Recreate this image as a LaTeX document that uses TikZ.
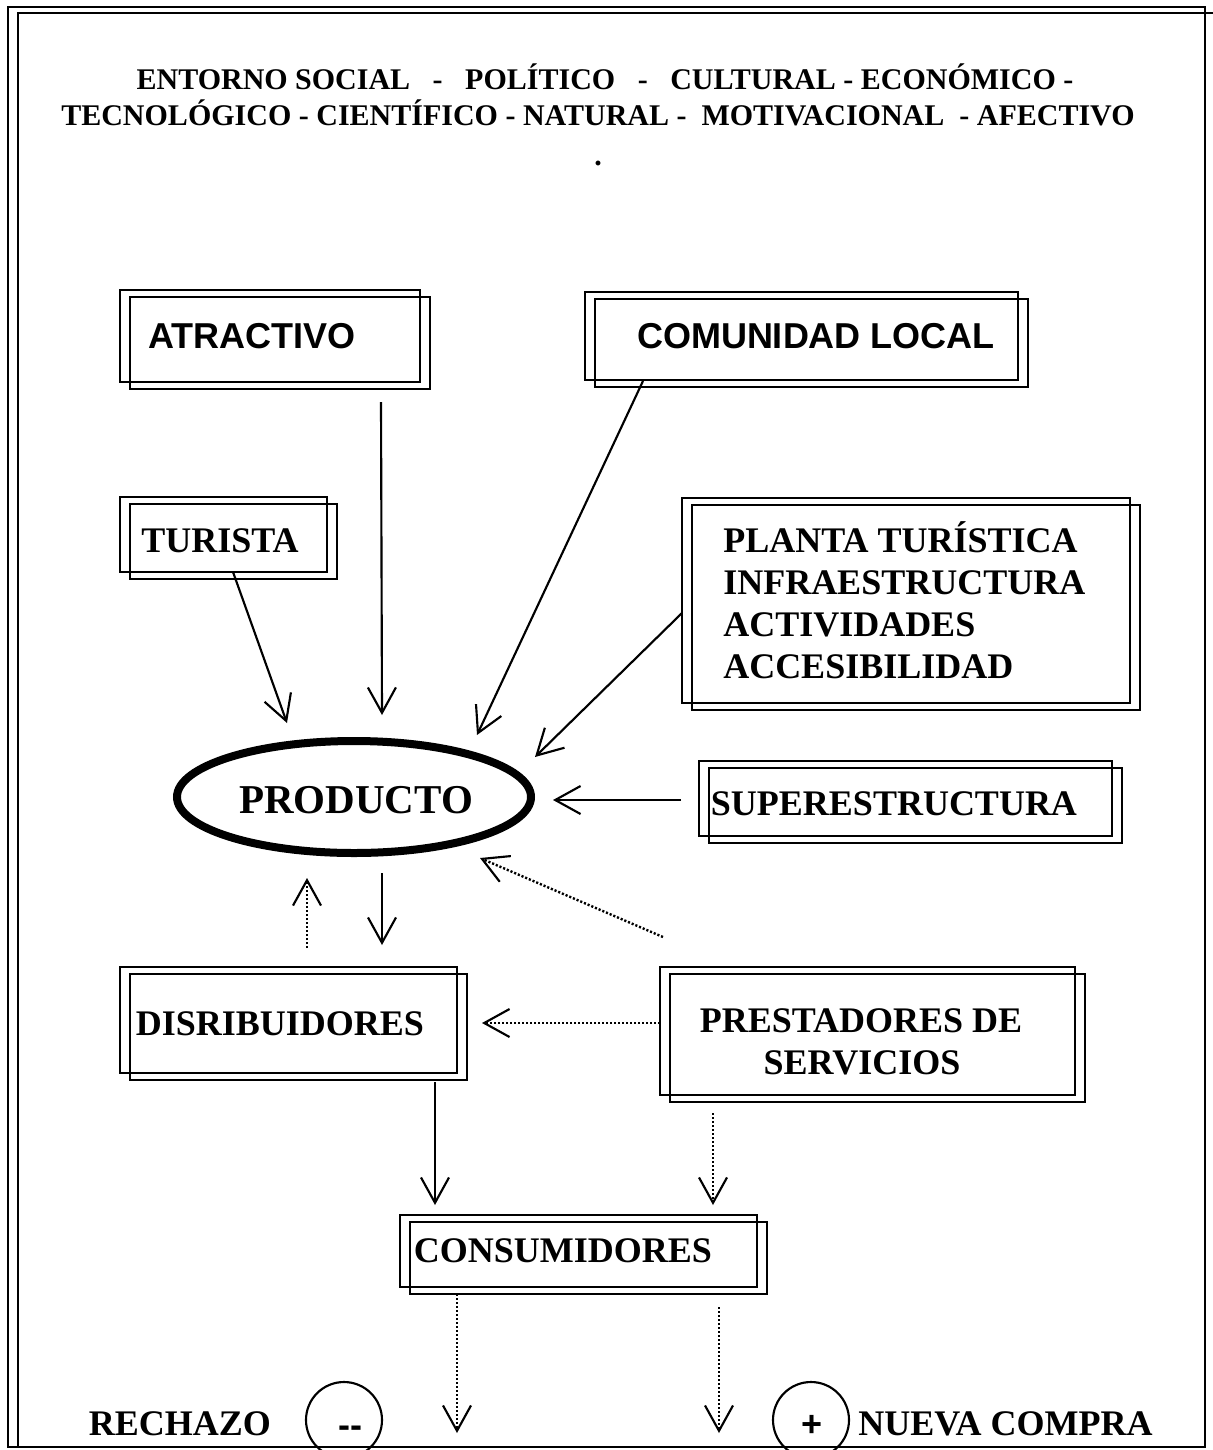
\documentclass[tikz,border=0pt]{standalone}
\usepackage{fontspec}
\setmainfont{Liberation Serif}
\newfontfamily\arialf{Liberation Sans}
\usetikzlibrary{arrows.meta,shapes.geometric,fit}
\newcommand\twinbox[5]{%
  \coordinate (#1-a) at (#2,#3);
  \coordinate (#1-b) at (#4,#5);
  \node[draw,boxline,inner sep=0pt,fit=(#1-a)(#1-b)] (#1) {};
  \draw[boxline] ([shift={(10,7)}]#1-a) rectangle ([shift={(10,7)}]#1-b);}
\begin{document}
\begin{tikzpicture}[x=0.75pt,y=-0.75pt,
  boxline/.style={line width=2pt},
  lbl/.style={font=\fontsize{27}{31.5}\selectfont\bfseries, inner sep=0pt, anchor=base},
  albl/.style={font=\arialf\fontsize{27}{31.5}\selectfont\bfseries, inner sep=0pt, anchor=base},
  hdr/.style={font=\fontsize{22.5}{27}\selectfont\bfseries, inner sep=0pt, anchor=base},
  arr/.style={line width=1.6pt, -{Straight Barb[length=19pt,width=21pt,line width=1.6pt]}},
  darr/.style={arr, line width=1.8pt, dash pattern=on 1.6pt off 1.4pt},
  framel/.style={line width=1.9pt},
  ring/.style={circle, draw, line width=1.6pt, minimum size=57pt, inner sep=0pt},
  sym/.style={font=\arialf\fontsize{27}{31}\selectfont\bfseries, inner sep=0pt, anchor=base}]
\useasboundingbox (0,0) rectangle (1213,1450);
% frame
\draw[framel] (8,7) rectangle (1205,1447);
\draw[framel] (1213,13) -- (18,13) -- (18,1447);
% header
\node[hdr] (h1) at (605,89) {ENTORNO SOCIAL \ \ - \ \ POLÍTICO \ \ - \ \ CULTURAL - ECONÓMICO -};
\node[hdr] (h2) at (598,125) {TECNOLÓGICO - CIENTÍFICO - NATURAL - \ MOTIVACIONAL \ - AFECTIVO};
\node[hdr] (hdot) at (598,165) {.};
% boxes
\twinbox{atr}{120}{290}{420}{382}
\twinbox{com}{585}{292}{1018}{380}
\twinbox{tur}{120}{497}{327}{572}
\twinbox{pla}{682}{498}{1130}{703}
\twinbox{sup}{699}{761}{1112}{836}
\twinbox{dis}{120}{967}{457}{1073}
\twinbox{pre}{660}{967}{1075}{1095}
\twinbox{con}{400}{1215}{757}{1287}
% texts
\node[albl] (atrt) at (252,348) {ATRACTIVO};
\node[albl] (comt) at (816,348) {COMUNIDAD LOCAL};
\node[lbl] (turt) at (220,552) {TURISTA};
\node[lbl, anchor=base west] (pla1) at (723,552) {PLANTA TURÍSTICA};
\node[lbl, anchor=base west] (pla2) at (723,594) {INFRAESTRUCTURA};
\node[lbl, anchor=base west] (pla3) at (723,636) {ACTIVIDADES};
\node[lbl, anchor=base west] (pla4) at (723,678) {ACCESIBILIDAD};
\node[lbl] (supt) at (894,815) {SUPERESTRUCTURA};
\node[lbl] (dist) at (280,1035) {DISRIBUIDORES};
\node[lbl] (pret1) at (861,1032) {PRESTADORES DE};
\node[lbl] (pret2) at (862,1074) {SERVICIOS};
\node[lbl] (cont) at (563,1262) {CONSUMIDORES};
\node[lbl] (rech) at (180,1435) {RECHAZO};
\node[lbl, anchor=base west] (nueva) at (858,1435) {NUEVA COMPRA};
% product
\node[ellipse, draw, line width=6pt, minimum width=265.5pt, minimum height=84pt, inner sep=0pt] (prod) at (354,797) {};
\node[font=\fontsize{30.75}{36}\selectfont\bfseries, inner sep=0pt, anchor=base] (prodt) at (356,813) {PRODUCTO};
% bottom rings
\node[ring] (minus) at (344,1420) {};
\node[sym] (minust) at (350,1437) {-{}-};
\node[ring] (plus) at (811,1420) {};
\node[sym] (plust) at (812,1436) {+};
% connector end points
\coordinate (turout) at (233,572);
\coordinate (pA) at (287,723);
\coordinate (atrout) at (381,402);
\coordinate (pB) at (382,715);
\coordinate (comout) at (643,381);
\coordinate (pC) at (477,735);
\coordinate (plaout) at (682,613);
\coordinate (pD) at (535,757);
\coordinate (supout) at (681,800);
\coordinate (pE) at (553,800);
\coordinate (preup) at (663,937);
\coordinate (pF) at (480,858);
\coordinate (disup) at (307,948);
\coordinate (pG) at (307,878);
\coordinate (pH) at (382,873);
\coordinate (disin) at (382,945);
\coordinate (preleft) at (660,1023);
\coordinate (disright) at (482,1023);
\coordinate (disdown) at (435,1082);
\coordinate (conA) at (435,1205);
\coordinate (predown) at (713,1113);
\coordinate (conB) at (713,1205);
\coordinate (conoutA) at (457,1294);
\coordinate (rejA) at (457,1433);
\coordinate (conoutB) at (719,1307);
\coordinate (newB) at (719,1433);
% connectors
\draw[arr] (turout) -- (pA);
\draw[arr] (atrout) -- (pB);
\draw[arr] (comout) -- (pC);
\draw[arr] (plaout) -- (pD);
\draw[arr] (supout) -- (pE);
\draw[darr] (preup) -- (pF);
\draw[darr] (disup) -- (pG);
\draw[arr] (pH) -- (disin);
\draw[darr] (preleft) -- (disright);
\draw[arr] (disdown) -- (conA);
\draw[darr] (predown) -- (conB);
\draw[darr] (conoutA) -- (rejA);
\draw[darr] (conoutB) -- (newB);
\end{tikzpicture}
\end{document}
